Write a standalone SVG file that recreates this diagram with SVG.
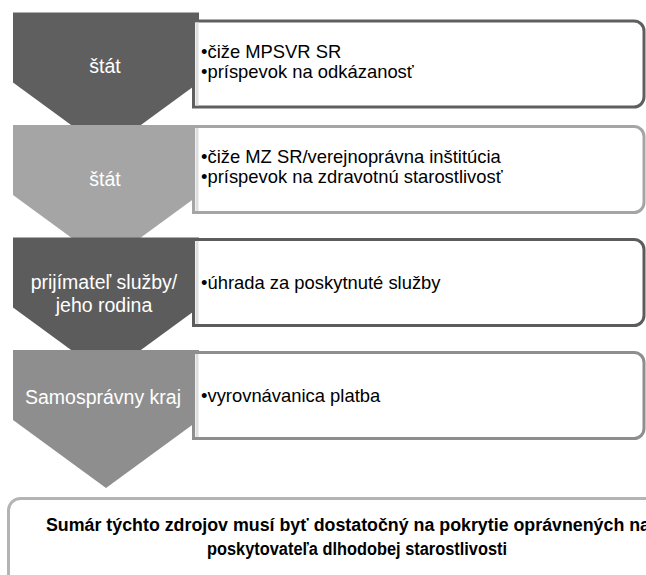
<svg xmlns="http://www.w3.org/2000/svg" width="646" height="575" viewBox="0 0 646 575">
<style>
.lbl{font-family:"Liberation Sans",Arial,sans-serif;font-size:19.5px;fill:#ffffff;text-anchor:middle}
.txt{font-family:"Liberation Sans",Arial,sans-serif;font-size:18.4px;fill:#000000}
.sum{font-family:"Liberation Sans",Arial,sans-serif;font-size:17.5px;font-weight:bold;fill:#000000}
.box{fill:#ffffff;stroke-width:3}
.strip{fill:#dedede}
</style>
<defs>
<path id="chev" d="M13,0 H199 V70 L106,138 L13,70 Z"/>
<path id="card" d="M193.5,0 H634 A10,10 0 0 1 644,10 V76 A10,10 0 0 1 634,86 H193.5 Z"/>
</defs>
<g id="row1">
<use href="#chev" transform="translate(0,12.5)" fill="#5f5f5f"/>
</g>
<g id="row2">
<use href="#chev" transform="translate(0,125)" fill="#a5a5a5"/>
</g>
<g id="row3">
<use href="#chev" transform="translate(0,237.5)" fill="#5c5c5c"/>
</g>
<g id="row4">
<use href="#chev" transform="translate(0,350)" fill="#8e8e8e"/>
</g>
<g id="connectors"></g>
<g id="box1">
<use href="#card" class="box" transform="translate(0,21)" stroke="#5f5f5f"/>
<rect class="strip" x="195.5" y="22.5" width="3" height="83"/>
<text class="txt" x="201" y="57.5">•čiže MPSVR SR</text>
<text class="txt" x="201" y="77.5">•príspevok na odkázanosť</text>
</g>
<g id="box2">
<use href="#card" class="box" transform="translate(0,126.5)" stroke="#a5a5a5"/>
<rect class="strip" x="195.5" y="128" width="3" height="83"/>
<text class="txt" x="201" y="163">•čiže MZ SR/verejnoprávna inštitúcia</text>
<text class="txt" x="201" y="183">•príspevok na zdravotnú starostlivosť</text>
</g>
<g id="box3">
<use href="#card" class="box" transform="translate(0,239.5)" stroke="#5c5c5c"/>
<rect class="strip" x="195.5" y="241" width="3" height="83"/>
<text class="txt" x="201" y="288.5">•úhrada za poskytnuté služby</text>
</g>
<g id="box4">
<use href="#card" class="box" transform="translate(0,352.5)" stroke="#8e8e8e"/>
<rect class="strip" x="195.5" y="354" width="3" height="83"/>
<text class="txt" x="201" y="401.5">•vyrovnávanica platba</text>
</g>
<g id="labels">
<text class="lbl" x="105" y="72.5">štát</text>
<text class="lbl" x="105" y="185.5">štát</text>
<text class="lbl" x="104" y="289">prijímateľ služby/</text>
<text class="lbl" x="104" y="312">jeho rodina</text>
<text class="lbl" x="103" y="404">Samosprávny kraj</text>
</g>
<g id="summary">
<rect x="8.5" y="498.5" width="700" height="110" rx="12" ry="12" fill="#ffffff" stroke="#b4b4b4" stroke-width="3"/>
<text class="sum" x="46" y="531" textLength="604" lengthAdjust="spacingAndGlyphs">Sumár týchto zdrojov musí byť dostatočný na pokrytie oprávnených na</text>
<text class="sum" x="207" y="555" textLength="300" lengthAdjust="spacingAndGlyphs">poskytovateľa dlhodobej starostlivosti</text>
</g>
</svg>
